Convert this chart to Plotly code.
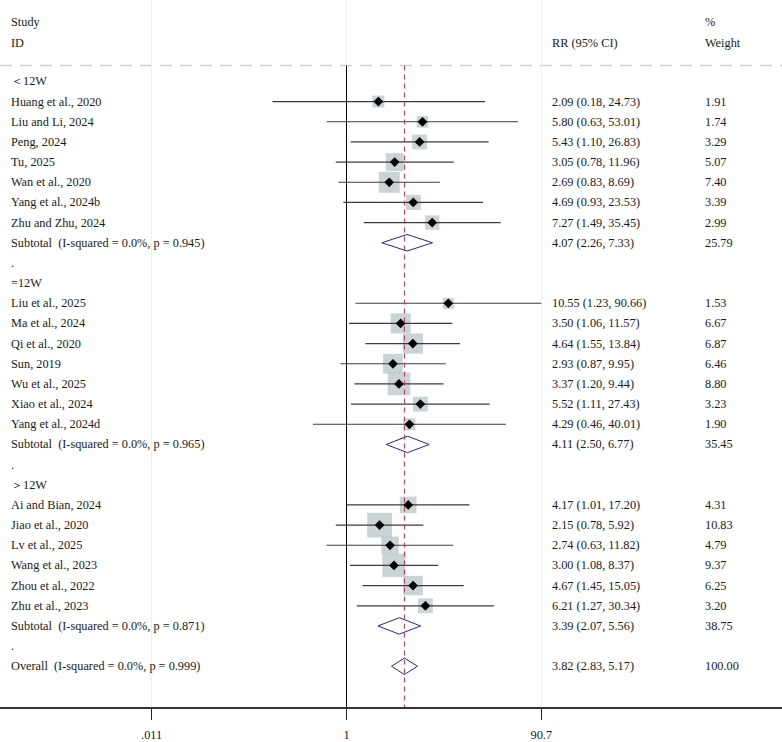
import numpy as np
import plotly.graph_objects as go

# ---------------- data ----------------
group_names = ["＜12W", "=12W", "＞12W"]

g1_studies = ["Huang et al., 2020", "Liu and Li, 2024", "Peng, 2024", "Tu, 2025",
              "Wan et al., 2020", "Yang et al., 2024b", "Zhu and Zhu, 2024"]
g1_rr = [2.09, 5.80, 5.43, 3.05, 2.69, 4.69, 7.27]
g1_lo = [0.18, 0.63, 1.10, 0.78, 0.83, 0.93, 1.49]
g1_hi = [24.73, 53.01, 26.83, 11.96, 8.69, 23.53, 35.45]
g1_w = [1.91, 1.74, 3.29, 5.07, 7.40, 3.39, 2.99]

g2_studies = ["Liu et al., 2025", "Ma et al., 2024", "Qi et al., 2020", "Sun, 2019",
              "Wu et al., 2025", "Xiao et al., 2024", "Yang et al., 2024d"]
g2_rr = [10.55, 3.50, 4.64, 2.93, 3.37, 5.52, 4.29]
g2_lo = [1.23, 1.06, 1.55, 0.87, 1.20, 1.11, 0.46]
g2_hi = [90.66, 11.57, 13.84, 9.95, 9.44, 27.43, 40.01]
g2_w = [1.53, 6.67, 6.87, 6.46, 8.80, 3.23, 1.90]

g3_studies = ["Ai and Bian, 2024", "Jiao et al., 2020", "Lv et al., 2025", "Wang et al., 2023",
              "Zhou et al., 2022", "Zhu et al., 2023"]
g3_rr = [4.17, 2.15, 2.74, 3.00, 4.67, 6.21]
g3_lo = [1.01, 0.78, 0.63, 1.08, 1.45, 1.27]
g3_hi = [17.20, 5.92, 11.82, 8.37, 15.05, 30.34]
g3_w = [4.31, 10.83, 4.79, 9.37, 6.25, 3.20]

sub_labels = ["Subtotal  (I-squared = 0.0%, p = 0.945)",
              "Subtotal  (I-squared = 0.0%, p = 0.965)",
              "Subtotal  (I-squared = 0.0%, p = 0.871)"]
sub_rr = [4.07, 4.11, 3.39]
sub_lo = [2.26, 2.50, 2.07]
sub_hi = [7.33, 6.77, 5.56]
sub_w = [25.79, 35.45, 38.75]

overall_label = "Overall  (I-squared = 0.0%, p = 0.999)"
overall_rr = 3.82
overall_lo = 2.83
overall_hi = 5.17
overall_w = 100.00

tick_vals = [0.011, 1, 90.7]
tick_text = [".011", "1", "90.7"]

# ---------------- layout constants ----------------
W, H = 782, 742
ROW0 = 82.0      # px of first row
ROWH = 20.31     # px per row
BOTTOM = 712.0   # axis line px
PX_PER_DEC = 99.5
NULL_PX = 346.5

def row_of_px(px):
    return (px - ROW0) / ROWH

FONT = "Liberation Serif, Times New Roman, serif"
FS = 12.3
TXT = "#1a1a1a"
BOX = "#b3c1c5"
CI = "#3c3c3c"
NAVY = "#26268a"
RED = "#b0304a"

groups = [
    (g1_studies, g1_rr, g1_lo, g1_hi, g1_w),
    (g2_studies, g2_rr, g2_lo, g2_hi, g2_w),
    (g3_studies, g3_rr, g3_lo, g3_hi, g3_w),
]

rows = []
for gi, (st, rr, lo, hi, w) in enumerate(groups):
    rows.append(dict(kind="head", label=group_names[gi]))
    for s, r, l, h, ww in zip(st, rr, lo, hi, w):
        rows.append(dict(kind="study", label=s, rr=r, lo=l, hi=h, w=ww))
    rows.append(dict(kind="sub", label=sub_labels[gi], rr=sub_rr[gi], lo=sub_lo[gi],
                     hi=sub_hi[gi], w=sub_w[gi]))
    rows.append(dict(kind="blank", label="."))
rows.append(dict(kind="sub", label=overall_label, rr=overall_rr, lo=overall_lo,
                 hi=overall_hi, w=overall_w))

fig = go.Figure()

# boxes (area ~ weight)
bx, by, bs = [], [], []
for i, r in enumerate(rows):
    if r["kind"] == "study":
        bx.append(r["rr"]); by.append(i); bs.append(2.75 + 6.7 * np.sqrt(r["w"]))
fig.add_trace(go.Scatter(x=bx, y=by, mode="markers",
                         marker=dict(symbol="square", size=bs, color=BOX, line=dict(width=0)),
                         hoverinfo="skip", showlegend=False))

# CI lines
cx, cy = [], []
for i, r in enumerate(rows):
    if r["kind"] == "study":
        cx += [r["lo"], r["hi"], None]; cy += [i, i, None]
fig.add_trace(go.Scatter(x=cx, y=cy, mode="lines", line=dict(color=CI, width=1.2),
                         hoverinfo="skip", showlegend=False))

# point estimates
fig.add_trace(go.Scatter(x=bx, y=by, mode="markers",
                         marker=dict(symbol="diamond", size=7.5, color="black"),
                         hoverinfo="skip", showlegend=False))

# pooled diamonds
HALF = 8.3 / ROWH
dx, dy = [], []
for i, r in enumerate(rows):
    if r["kind"] == "sub":
        dx += [r["lo"], r["rr"], r["hi"], r["rr"], r["lo"], None]
        dy += [i, i - HALF, i, i + HALF, i, None]
fig.add_trace(go.Scatter(x=dx, y=dy, mode="lines", line=dict(color=NAVY, width=1),
                         hoverinfo="skip", showlegend=False))

y_top_line = row_of_px(66)
y_bottom = row_of_px(BOTTOM)

shapes = [
    dict(type="line", xref="paper", yref="y", x0=0, x1=1, y0=y_top_line, y1=y_top_line,
         line=dict(color="#c3d5d7", width=1.5, dash="12px,8px"), layer="below"),
    dict(type="line", xref="x", yref="y", x0=1, x1=1, y0=y_top_line, y1=y_bottom,
         line=dict(color="black", width=1), layer="above"),
    dict(type="line", xref="x", yref="y", x0=overall_rr, x1=overall_rr,
         y0=y_top_line, y1=y_bottom,
         line=dict(color=RED, width=1, dash="5px,4px"), layer="above"),
]

ann = []
def text(px_x, yval, s, anchor="left"):
    ann.append(dict(xref="paper", yref="y", x=px_x / W, y=yval, text=s, showarrow=False,
                    xanchor=anchor, yanchor="middle",
                    font=dict(family=FONT, size=FS, color=TXT)))

COL_ID, COL_RR, COL_W = 9, 549.5, 703

text(COL_ID, row_of_px(22), "Study")
text(COL_ID, row_of_px(43), "ID")
text(COL_RR, row_of_px(43), "RR (95% CI)")
text(COL_W, row_of_px(22), "%")
text(COL_W, row_of_px(43), "Weight")

for i, r in enumerate(rows):
    text(COL_ID, i, r["label"])
    if r["kind"] in ("study", "sub"):
        text(COL_RR, i, f"{r['rr']:.2f} ({r['lo']:.2f}, {r['hi']:.2f})")
        text(COL_W, i, f"{r['w']:.2f}")

x_lo = np.log10(1) - NULL_PX / PX_PER_DEC
x_hi = np.log10(1) + (W - NULL_PX) / PX_PER_DEC

fig.update_layout(
    width=W, height=H,
    margin=dict(l=0, r=0, t=0, b=H - BOTTOM),
    paper_bgcolor="white", plot_bgcolor="white",
    shapes=shapes, annotations=ann,
    xaxis=dict(type="log", range=[x_lo, x_hi], tickvals=tick_vals, ticktext=tick_text,
               showgrid=True, gridcolor="#eeeeee", gridwidth=1, zeroline=False,
               showline=True, linecolor="#333333", linewidth=1.5,
               ticks="outside", ticklen=11, tickcolor="#222222", tickwidth=1,
               ticklabelstandoff=4,
               tickfont=dict(family=FONT, size=FS, color=TXT)),
    yaxis=dict(range=[y_bottom, row_of_px(0)], showgrid=False, zeroline=False,
               showticklabels=False, showline=False, ticks=""),
    showlegend=False,
)

fig.write_html("out.html")
